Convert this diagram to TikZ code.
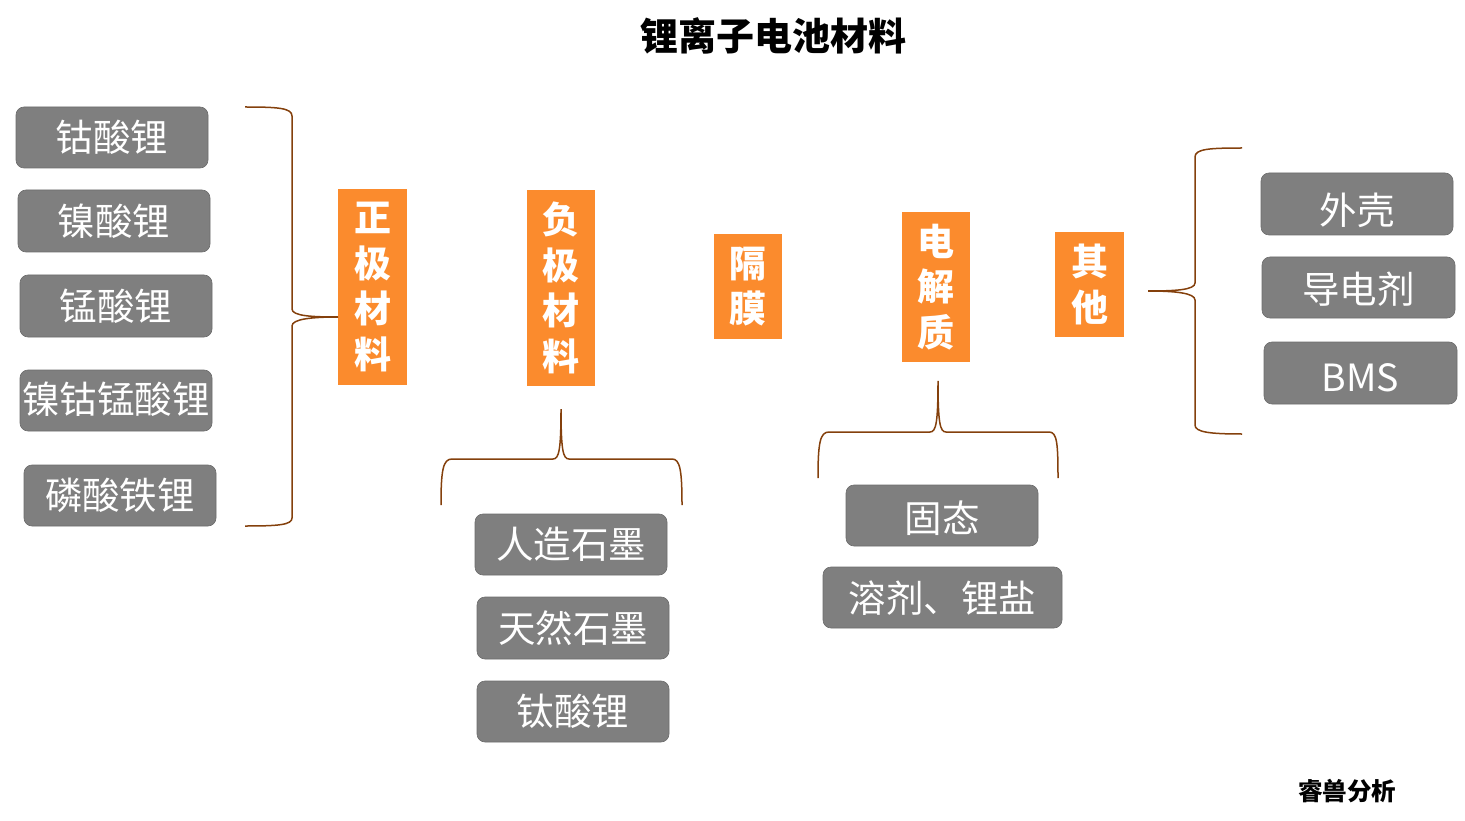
\documentclass[tikz,border=0pt]{standalone}
\usepackage{fontspec}
\newfontfamily\cjk{Noto Sans CJK SC}
\definecolor{boxgray}{RGB}{127,127,127}
\definecolor{orng}{RGB}{251,139,45}
\definecolor{brace}{RGB}{132,64,12}
\tikzset{
  graybox/.style={fill=boxgray, draw=boxgray!85!black, line width=0.6pt, rounded corners=8pt},
  graytext/.style={text=white, inner sep=0pt, font=\cjk\fontsize{37.5}{40}\selectfont},
  orangebox/.style={text=white, inner sep=0pt, align=center, font=\cjk\bfseries\fontsize{37}{45.7}\selectfont},
  bracepath/.style={draw=brace, line width=1.5pt}
}
\newcommand{\gbox}[7]{\path[graybox] (#2,#3) rectangle (#4,#5); \node[graytext] (#1) at ({(#2+#4)/2},{(#3+#5)/2+#6}) {#7};}
\newcommand{\obox}[6]{\path[fill=orng] (#2,#3) rectangle (#4,#5); \node[orangebox] (#1) at ({(#2+#4)/2},{(#3+#5)/2}) {#6};}
\begin{document}
\begin{tikzpicture}[x=1pt,y=-1pt]
\useasboundingbox (0,0) rectangle (1465,821);
% title and mark
\node[font=\cjk\bfseries\fontsize{38}{40}\selectfont] (title) at (773,36) {锂离子电池材料};
\node[font=\cjk\bfseries\fontsize{24.5}{26}\selectfont] (mark) at (1347,791) {睿兽分析};
% left column
\gbox{a1}{16}{107}{208}{168}{0}{钴酸锂}
\gbox{a2}{18}{190}{210}{252}{0}{镍酸锂}
\gbox{a3}{20}{275}{212}{337}{0}{锰酸锂}
\gbox{a4}{20}{370}{212}{431}{-1}{镍钴锰酸锂}
\gbox{a5}{24}{465}{216}{526}{0}{磷酸铁锂}
% anode
\gbox{b1}{475}{514}{667}{575}{0}{人造石墨}
\gbox{b2}{477}{597}{669}{659}{0}{天然石墨}
\gbox{b3}{477}{681}{669}{742}{0}{钛酸锂}
% electrolyte
\gbox{c1}{846}{485}{1038}{546}{3}{固态}
\gbox{c2}{823}{567}{1062}{628}{1}{溶剂、锂盐}
% others
\gbox{d1}{1261}{173}{1453}{235}{6}{外壳}
\gbox{d2}{1262}{257}{1455}{318}{2}{导电剂}
\gbox{d3}{1264}{342}{1457}{404}{5}{BMS}
% orange boxes
\obox{zj}{338}{189}{407}{385}{正\\极\\材\\料}
\obox{fj}{527}{190}{595}{386}{负\\极\\材\\料}
\obox{gm}{714}{234}{782}{339}{隔\\膜}
\obox{dj}{902}{212}{970}{362}{电\\解\\质}
\obox{qt}{1055}{232}{1124}{337}{其\\他}
% braces
\coordinate (t1) at (338,317);
\draw[bracepath] (245,107) .. controls (278,107) and (292,108) .. (292,116) -- (292,309)
  .. controls (292,316) and (312,317) .. (t1)
  .. controls (312,317) and (292,319) .. (292,326) -- (292,518)
  .. controls (292,525) and (278,526) .. (245,526);
\coordinate (t2) at (561,409);
\draw[bracepath] (441,505) .. controls (441,470) and (443,459) .. (452,459) -- (553,459)
  .. controls (559,459) and (561,450) .. (t2)
  .. controls (561,450) and (563,459) .. (569,459) -- (672,459)
  .. controls (680,459) and (682,470) .. (682,505);
\coordinate (t3) at (938,381);
\draw[bracepath] (818,478) .. controls (818,443) and (820,432) .. (829,432) -- (930,432)
  .. controls (936,432) and (938,423) .. (t3)
  .. controls (938,423) and (940,432) .. (946,432) -- (1049,432)
  .. controls (1057,432) and (1058,443) .. (1058,478);
\coordinate (t4) at (1148,291);
\draw[bracepath] (1242,148) .. controls (1209,148) and (1195,149) .. (1195,157) -- (1195,283)
  .. controls (1195,290) and (1175,291) .. (t4)
  .. controls (1175,291) and (1195,293) .. (1195,300) -- (1195,425)
  .. controls (1195,432) and (1209,434) .. (1242,434);
\end{tikzpicture}
\end{document}
